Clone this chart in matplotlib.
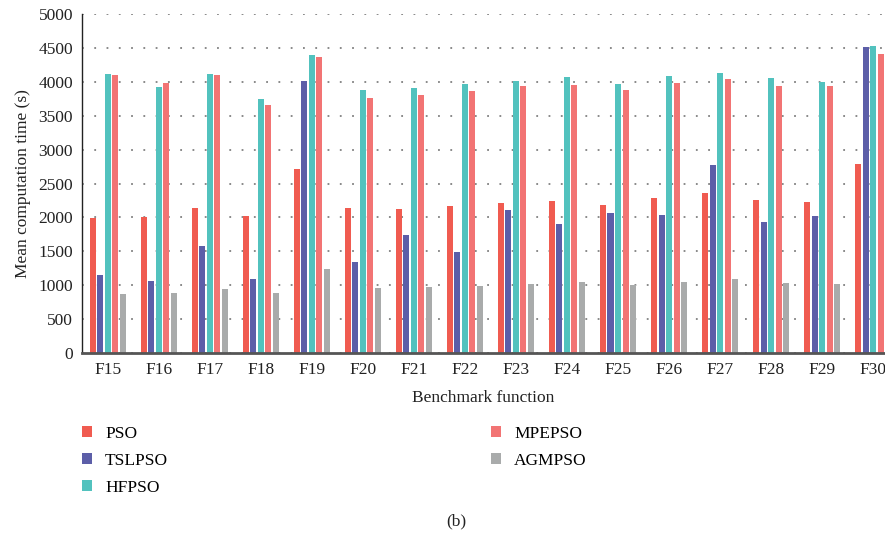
import matplotlib
matplotlib.use("Agg")
import matplotlib.pyplot as plt
import numpy as np

categories = ["F15", "F16", "F17", "F18", "F19", "F20", "F21", "F22",
              "F23", "F24", "F25", "F26", "F27", "F28", "F29", "F30"]
series_names = ["PSO", "TSLPSO", "HFPSO", "MPEPSO", "AGMPSO"]
pso    = [1995, 2005, 2138, 2020, 2714, 2138, 2123, 2168, 2212, 2241, 2182, 2286, 2360, 2256, 2227, 2788]
tslpso = [1148, 1059, 1576, 1089, 4014, 1340, 1739, 1488, 2108, 1901, 2064, 2035, 2773, 1931, 2020, 4512]
hfpso  = [4118, 3926, 4118, 3748, 4398, 3882, 3911, 3970, 4014, 4073, 3970, 4088, 4132, 4058, 4000, 4532]
mpepso = [4103, 3985, 4103, 3660, 4369, 3764, 3808, 3867, 3941, 3955, 3882, 3985, 4044, 3941, 3941, 4414]
agmpso = [867, 882, 941, 882, 1236, 956, 971, 985, 1015, 1045, 1000, 1045, 1089, 1030, 1015, 1100]
colors = ["#F05B50", "#5C5EA8", "#52C2BE", "#F27474", "#A9ABAB"]

plt.rcParams["font.family"] = ["Liberation Serif", "DejaVu Serif"]
FS = 12.5

fig = plt.figure(figsize=(8.85, 5.35), dpi=100)
ax = fig.add_axes([82/885, 1-352.7/535, (885-82)/885, (352.7-14.3)/535])

x = np.arange(len(categories))
step = 0.147
width = 0.118
data = [pso, tslpso, hfpso, mpepso, agmpso]
handles = []
for i, (vals, c, name) in enumerate(zip(data, colors, series_names)):
    b = ax.bar(x + (i - 2) * step, vals, width=width, color=c, label=name, zorder=3)
    handles.append(b)

ax.set_xlim(-0.5, 15.23)
ax.set_ylim(0, 5000)
ax.set_yticks(np.arange(0, 5001, 500))
ax.set_xticks(x)
ax.set_xticklabels(categories)
ax.tick_params(axis="both", length=0, labelsize=FS, colors="#222222")
ax.tick_params(axis="y", pad=6.5)
ax.tick_params(axis="x", pad=7)
ax.yaxis.grid(True, linestyle=(0, (1, 5.8)), linewidth=1.3, color="#808080", zorder=0)
ax.set_axisbelow(True)
for s in ["top", "right"]:
    ax.spines[s].set_visible(False)
ax.spines["left"].set_color("#222222")
ax.spines["left"].set_linewidth(1.0)
ax.spines["bottom"].set_color("#555555")
ax.spines["bottom"].set_linewidth(2.0)
ax.spines["bottom"].set_zorder(4)

ax.set_ylabel("Mean computation time (s)", fontsize=FS, color="#222222", labelpad=5)
ax.set_xlabel("Benchmark function", fontsize=FS, color="#222222", labelpad=8)

leg_kw = dict(frameon=False, fontsize=FS, handlelength=0.58, handleheight=0.58,
              handletextpad=0.75, labelspacing=0.62, borderpad=0, borderaxespad=0)
l1 = fig.legend(handles[:3], series_names[:3], loc="upper left",
                bbox_to_anchor=(82/885, 1-426/535), **leg_kw)
l2 = fig.legend(handles[3:], series_names[3:], loc="upper left",
                bbox_to_anchor=(491/885, 1-426/535), **leg_kw)

fig.text(456/885, 1-521/535, "(b)", ha="center", va="center", fontsize=FS, color="#222222")

fig.savefig("out.png", dpi=100)
